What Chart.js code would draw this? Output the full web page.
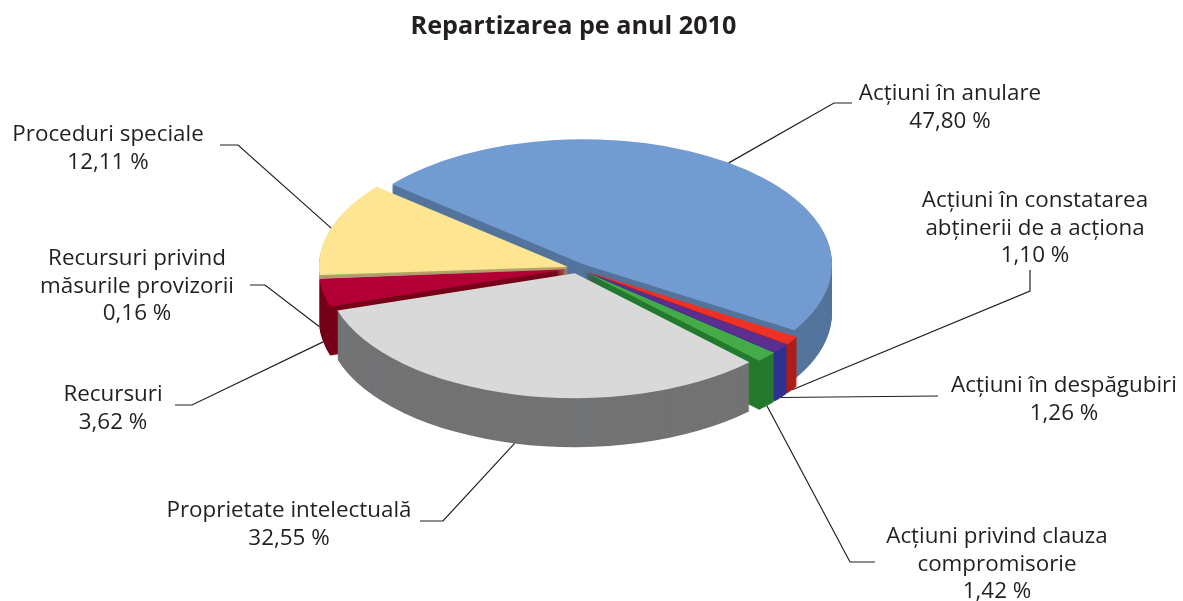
<!DOCTYPE html>
<html><head><meta charset="utf-8">
<style>html,body{margin:0;padding:0;background:#fff}canvas{display:block}</style>
<script src="https://cdn.jsdelivr.net/npm/chart.js@4/dist/chart.umd.min.js"></script>
</head><body>
<canvas id="c" width="1183" height="601"></canvas>
<script>
const chartTitle = 'Repartizarea pe anul 2010';
const categories = [
  ['Acțiuni în anulare'],
  ['Acțiuni în constatarea','abținerii de a acționa'],
  ['Acțiuni în despăgubiri'],
  ['Acțiuni privind clauza','compromisorie'],
  ['Proprietate intelectuală'],
  ['Recursuri'],
  ['Recursuri privind','măsurile provizorii'],
  ['Proceduri speciale']
];
const values = [47.80, 1.10, 1.26, 1.42, 32.55, 3.62, 0.16, 12.11];
const topColors  = ['#719bd1','#ef3123','#5b2e8f','#44ab48','#d8d9d8','#b20037','#a39a62','#fee591'];
const wallColors = ['#54749c','#b01e17','#2f3192','#247a2e','#727374','#760019','#c5d3e6','#b5a36a'];
// painter's order, back to front
const paintOrder = [0,7,6,5,1,2,3,4];
// layout of the label blocks: centre x, centre y of the first line
const labelX = [950,1035,1064,997,289,113,137,108];
const labelY = [94,201,386,537,511,395,259,135];
// leader elbows and ends, and whether the leader starts at the bottom of the wall
const elbowX = [834,1030,938,850,443,192,265,238];
const elbowY = [103,291,396,562,521,405,285,145];
const endX   = [852,1030,938,875,420,175,250,220];
const endY   = [103,270,396,562,521,405,285,145];
const fromWall = [0,1,1,1,1,1,1,0];

const TILT = 0.5025, DEPTH = 49, EXPLODE = 10, CX = 577.3, CY = 268.3, LINE = 27.5;
const FONT = '22.4px "Open Sans"';

const pie3d = {
  id: 'pie3d',
  beforeDatasetDraw(chart) {
    const ctx = chart.ctx, arcs = chart.getDatasetMeta(0).data;
    const place = (a, dy) => {
      const mid = (a.startAngle + a.endAngle) / 2;
      ctx.translate(CX, CY + dy);
      ctx.scale(1, TILT);
      ctx.translate(Math.cos(mid) * EXPLODE - a.x, Math.sin(mid) * EXPLODE - a.y);
    };
    paintOrder.forEach(i => {
      const a = arcs[i], base = a.options;
      a.options = Object.assign({}, base, {backgroundColor: wallColors[i]});
      for (let d = DEPTH; d >= 1; d--) { ctx.save(); place(a, d); a.draw(ctx); ctx.restore(); }
      a.options = base;
      ctx.save(); place(a, 0); a.draw(ctx); ctx.restore();
    });
    // leaders and labels
    ctx.save();
    ctx.strokeStyle = '#231f20'; ctx.lineWidth = 1.2;
    ctx.fillStyle = '#231f20'; ctx.font = FONT;
    ctx.textAlign = 'center'; ctx.textBaseline = 'middle';
    arcs.forEach((a, i) => {
      const mid = (a.startAngle + a.endAngle) / 2;
      const r = a.outerRadius + EXPLODE;
      const sx = CX + Math.cos(mid) * r;
      const sy = CY + Math.sin(mid) * r * TILT + fromWall[i] * DEPTH;
      ctx.beginPath(); ctx.moveTo(sx, sy);
      ctx.lineTo(elbowX[i], elbowY[i]); ctx.lineTo(endX[i], endY[i]); ctx.stroke();
      const lines = categories[i].concat(values[i].toFixed(2).replace('.', ',') + ' %');
      lines.forEach((t, k) => ctx.fillText(t, labelX[i], labelY[i] + k * LINE));
    });
    ctx.restore();
    return false;
  }
};

new Chart(document.getElementById('c'), {
  type: 'pie',
  plugins: [pie3d],
  data: {
    labels: categories.map(c => c.join(' ')),
    datasets: [{ data: values, backgroundColor: topColors, borderWidth: 0 }]
  },
  options: {
    responsive: false, animation: false, rotation: -50.2, radius: 248.8,
    layout: { padding: { left: 0, right: 36, top: 0, bottom: 100 } },
    plugins: {
      legend: { display: false }, tooltip: { enabled: false },
      title: { display: true, text: chartTitle, fullSize: false, color: '#231f20',
               font: { family: '"Open Sans"', size: 25.2, weight: 'bold' }, padding: { top: 12, bottom: 10 } }
    }
  }
});
</script>
</body></html>
